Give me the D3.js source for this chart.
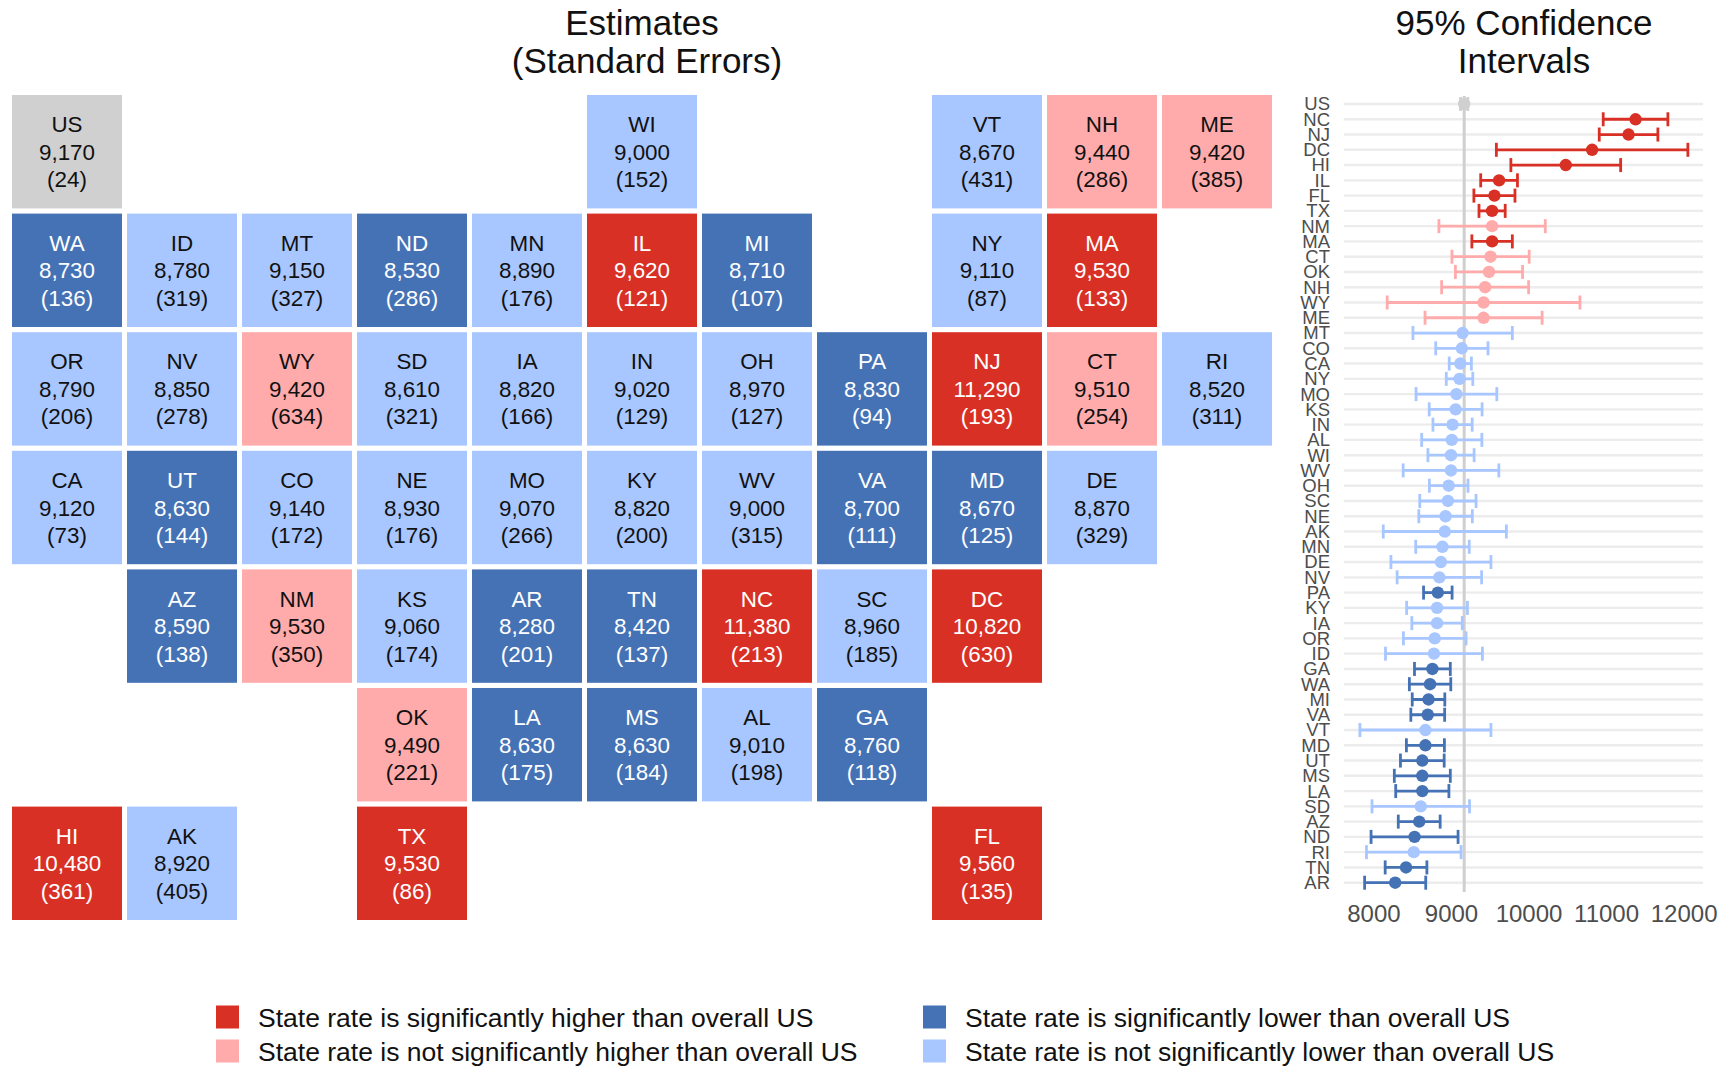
<!DOCTYPE html>
<html>
<head>
<meta charset="utf-8">
<script src="https://cdn.jsdelivr.net/npm/d3@7"></script>
<style>
    html, body { margin: 0; padding: 0; background: #fff; }
    svg { display: block; font-family: "Liberation Sans", Arial, sans-serif; }
</style>
</head>
<body>
<svg width="1728" height="1067"></svg>
<script>
// tile map layout, one string per row, "." is an empty cell
const tileGrid = [
    ["US", ".", ".", ".", ".", "WI", ".", ".", "VT", "NH", "ME"],
    ["WA", "ID", "MT", "ND", "MN", "IL", "MI", ".", "NY", "MA", "."],
    ["OR", "NV", "WY", "SD", "IA", "IN", "OH", "PA", "NJ", "CT", "RI"],
    ["CA", "UT", "CO", "NE", "MO", "KY", "WV", "VA", "MD", "DE", "."],
    [".", "AZ", "NM", "KS", "AR", "TN", "NC", "SC", "DC", ".", "."],
    [".", ".", ".", "OK", "LA", "MS", "AL", "GA", ".", ".", "."],
    ["HI", "AK", ".", "TX", ".", ".", ".", ".", "FL", ".", "."]
];

const states = ["US", "WI", "VT", "NH", "ME", "WA", "ID", "MT", "ND", "MN", "IL", "MI", "NY", "MA",
    "OR", "NV", "WY", "SD", "IA", "IN", "OH", "PA", "NJ", "CT", "RI",
    "CA", "UT", "CO", "NE", "MO", "KY", "WV", "VA", "MD", "DE",
    "AZ", "NM", "KS", "AR", "TN", "NC", "SC", "DC",
    "OK", "LA", "MS", "AL", "GA", "HI", "AK", "TX", "FL"];
const estimates = [9170, 9000, 8670, 9440, 9420, 8730, 8780, 9150, 8530, 8890, 9620, 8710, 9110, 9530,
    8790, 8850, 9420, 8610, 8820, 9020, 8970, 8830, 11290, 9510, 8520,
    9120, 8630, 9140, 8930, 9070, 8820, 9000, 8700, 8670, 8870,
    8590, 9530, 9060, 8280, 8420, 11380, 8960, 10820,
    9490, 8630, 8630, 9010, 8760, 10480, 8920, 9530, 9560];
const stdErrors = [24, 152, 431, 286, 385, 136, 319, 327, 286, 176, 121, 107, 87, 133,
    206, 278, 634, 321, 166, 129, 127, 94, 193, 254, 311,
    73, 144, 172, 176, 266, 200, 315, 111, 125, 329,
    138, 350, 174, 201, 137, 213, 185, 630,
    221, 175, 184, 198, 118, 361, 405, 86, 135];
const groups = ["us", "notLower", "notLower", "notHigher", "notHigher", "lower", "notLower", "notLower", "lower", "notLower", "higher", "lower", "notLower", "higher",
    "notLower", "notLower", "notHigher", "notLower", "notLower", "notLower", "notLower", "lower", "higher", "notHigher", "notLower",
    "notLower", "lower", "notLower", "notLower", "notLower", "notLower", "notLower", "lower", "lower", "notLower",
    "lower", "notHigher", "notLower", "lower", "lower", "higher", "notLower", "higher",
    "notHigher", "lower", "lower", "notLower", "lower", "higher", "notLower", "higher", "higher"];

// confidence interval panel, top to bottom
const ciOrder = ["US", "NC", "NJ", "DC", "HI", "IL", "FL", "TX", "NM", "MA", "CT", "OK", "NH", "WY", "ME",
    "MT", "CO", "CA", "NY", "MO", "KS", "IN", "AL", "WI", "WV", "OH", "SC", "NE", "AK", "MN", "DE", "NV",
    "PA", "KY", "IA", "OR", "ID", "GA", "WA", "MI", "VA", "VT", "MD", "UT", "MS", "LA", "SD", "AZ", "ND", "RI", "TN", "AR"];
const ciLow = [9123, 10963, 10912, 9585, 9772, 9383, 9295, 9361, 8844, 9269, 9012, 9057, 8879, 8177, 8665,
    8509, 8803, 8977, 8939, 8549, 8719, 8767, 8622, 8702, 8383, 8721, 8597, 8585, 8126, 8545, 8225, 8305,
    8646, 8428, 8495, 8386, 8155, 8529, 8463, 8500, 8482, 7825, 8425, 8348, 8269, 8287, 7981, 8320, 7969, 7910, 8151, 7886];
const ciHigh = [9217, 11797, 11668, 12055, 11188, 9857, 9825, 9699, 10216, 9791, 10008, 9923, 10001, 10663, 10175,
    9791, 9477, 9263, 9281, 9591, 9401, 9273, 9398, 9298, 9617, 9219, 9323, 9275, 9714, 9235, 9515, 9395,
    9014, 9212, 9145, 9194, 9405, 8991, 8997, 8920, 8918, 9515, 8915, 8912, 8991, 8973, 9239, 8860, 9091, 9130, 8689, 8674];
const xTicks = [8000, 9000, 10000, 11000, 12000];
const usRate = 9170;

const legendGroups = ["higher", "lower", "notHigher", "notLower"];
const legendLabels = ["State rate is significantly higher than overall US",
    "State rate is significantly lower than overall US",
    "State rate is not significantly higher than overall US",
    "State rate is not significantly lower than overall US"];

const svg = d3.select("svg");

const color = d3.scaleOrdinal()
    .domain(["higher", "notHigher", "lower", "notLower", "us"])
    .range(["#d93026", "#ffabab", "#4472b5", "#a8c6ff", "#d0d0d0"]);
const textColor = d3.scaleOrdinal()
    .domain(["higher", "notHigher", "lower", "notLower", "us"])
    .range(["#fff", "#111", "#fff", "#111", "#111"]);

const titleSize = 35;

// ---- tile map ----
const tileData = [];
tileGrid.forEach(function(row, r) {
    row.forEach(function(code, c) {
        if (code === ".") return;
        const i = states.indexOf(code);
        tileData.push({code: code, col: c, row: r, est: estimates[i], se: stdErrors[i], group: groups[i]});
    });
});

const colScale = d3.scaleBand().domain(d3.range(11)).range([12, 1272]).paddingInner(0.0435);
const rowScale = d3.scaleBand().domain(d3.range(7)).range([95, 920]).paddingInner(0.0438);
const fmt = d3.format(",");

const tiles = svg.append("g").selectAll("g")
    .data(tileData)
    .enter().append("g")
    .attr("transform", function(d) { return "translate(" + colScale(d.col) + "," + rowScale(d.row) + ")"; });

tiles.append("rect")
    .attr("width", colScale.bandwidth())
    .attr("height", rowScale.bandwidth())
    .attr("fill", function(d) { return color(d.group); });

const tileLines = [
    function(d) { return d.code; },
    function(d) { return fmt(d.est); },
    function(d) { return "(" + d.se + ")"; }
];
tileLines.forEach(function(getText, n) {
    tiles.append("text")
        .attr("x", colScale.bandwidth() / 2)
        .attr("y", rowScale.bandwidth() / 2 + (n - 1) * 27.5)
        .attr("dy", "0.36em")
        .attr("text-anchor", "middle")
        .attr("font-size", 22.4)
        .attr("fill", function(d) { return textColor(d.group); })
        .text(getText);
});

// ---- titles ----
function addTitle(x, y, label) {
    svg.append("text")
        .attr("x", x).attr("y", y)
        .attr("text-anchor", "middle")
        .attr("font-size", titleSize)
        .attr("fill", "#111")
        .text(label);
}
addTitle(642, 35, "Estimates");
addTitle(647, 73, "(Standard Errors)");
addTitle(1524, 35, "95% Confidence");
addTitle(1524, 73, "Intervals");

// ---- confidence intervals ----
const x = d3.scaleLinear().domain([7620, 12250]).range([1344, 1703]);
const y = d3.scalePoint().domain(ciOrder).range([104, 882.7]);

const ciData = ciOrder.map(function(code, i) {
    const j = states.indexOf(code);
    return {code: code, low: ciLow[i], high: ciHigh[i], est: estimates[j], group: groups[j]};
});

svg.append("g").selectAll("line")
    .data(ciOrder)
    .enter().append("line")
    .attr("x1", x.range()[0]).attr("x2", x.range()[1])
    .attr("y1", function(d) { return y(d); })
    .attr("y2", function(d) { return y(d); })
    .attr("stroke", "#ececec")
    .attr("stroke-width", 2.4);

svg.append("line")
    .attr("x1", x(usRate)).attr("x2", x(usRate))
    .attr("y1", 96).attr("y2", 892)
    .attr("stroke", "#cfcfcf")
    .attr("stroke-width", 3);

const ci = svg.append("g").selectAll("g")
    .data(ciData)
    .enter().append("g")
    .attr("stroke", function(d) { return color(d.group); })
    .attr("stroke-width", 2.8);

ci.append("line")
    .attr("x1", function(d) { return x(d.low); })
    .attr("x2", function(d) { return x(d.high); })
    .attr("y1", function(d) { return y(d.code); })
    .attr("y2", function(d) { return y(d.code); });
[function(d) { return x(d.low); }, function(d) { return x(d.high); }].forEach(function(cap) {
    ci.append("line")
        .attr("x1", cap).attr("x2", cap)
        .attr("y1", function(d) { return y(d.code) - 7; })
        .attr("y2", function(d) { return y(d.code) + 7; });
});
ci.append("circle")
    .attr("cx", function(d) { return x(d.est); })
    .attr("cy", function(d) { return y(d.code); })
    .attr("r", 6.2)
    .attr("stroke", "none")
    .attr("fill", function(d) { return color(d.group); });

const xAxis = svg.append("g")
    .attr("transform", "translate(0,892)")
    .call(d3.axisBottom(x).tickValues(xTicks).tickFormat(d3.format("d")).tickSize(0).tickPadding(13));
xAxis.select(".domain").remove();
xAxis.selectAll("text")
    .attr("font-family", "Liberation Sans")
    .attr("font-size", 24)
    .attr("fill", "#4d4d4d");

const yAxis = svg.append("g")
    .attr("transform", "translate(1330,0)")
    .call(d3.axisLeft(y).tickSize(0).tickPadding(0));
yAxis.select(".domain").remove();
yAxis.selectAll("text")
    .attr("font-family", "Liberation Sans")
    .attr("font-size", 18.5)
    .attr("fill", "#4d4d4d");

// ---- legend ----
const legendX = d3.scalePoint().domain([0, 1]).range([216, 923]);
const legendY = d3.scalePoint().domain([0, 1]).range([1017, 1051]);

const legend = svg.append("g").selectAll("g")
    .data(legendGroups)
    .enter().append("g")
    .attr("transform", function(d, i) { return "translate(" + legendX(i % 2) + "," + legendY(Math.floor(i / 2)) + ")"; });

legend.append("rect")
    .attr("y", -11.5)
    .attr("width", 23)
    .attr("height", 23)
    .attr("fill", function(d) { return color(d); });

legend.append("text")
    .attr("x", 42)
    .attr("dy", "0.36em")
    .attr("font-size", 26.5)
    .attr("fill", "#111")
    .text(function(d, i) { return legendLabels[i]; });
</script>
</body>
</html>
